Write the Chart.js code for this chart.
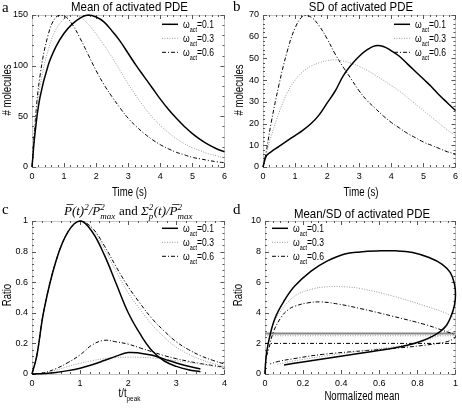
<!DOCTYPE html>
<html>
<head>
<meta charset="utf-8">
<script src="https://cdn.jsdelivr.net/npm/chart.js@4.4.0/dist/chart.umd.min.js"></script>
<style>
  body { margin: 0; background: #fff; }
  #wrap { position: relative; width: 462px; height: 408px; }
  .panel { position: absolute; width: 231px; height: 204px; }
</style>
</head>
<body>
<div id="wrap">
  <div class="panel" style="left:0;top:0"><canvas id="chartA" width="231" height="204"></canvas></div>
  <div class="panel" style="left:231px;top:0"><canvas id="chartB" width="231" height="204"></canvas></div>
  <div class="panel" style="left:0;top:204px"><canvas id="chartC" width="231" height="204"></canvas></div>
  <div class="panel" style="left:231px;top:204px"><canvas id="chartD" width="231" height="204"></canvas></div>
</div>
<script>
// series names (subscript written as _{...})
const seriesNames = ['ω_{act}=0.1', 'ω_{act}=0.3', 'ω_{act}=0.6'];

// a + b: time axis (s)
const timeS = [0, 0.1, 0.25, 0.5, 0.75, 1, 1.25, 1.5, 1.75, 2, 2.25, 2.5, 2.75, 3, 3.25, 3.5, 3.75, 4, 4.25, 4.5, 4.75, 5, 5.25, 5.5, 5.75, 6];

// a: mean of activated PDE
const meanW1 = [0, 35, 69, 100, 119, 132, 141, 147, 150, 148, 143, 134, 124, 112, 100, 89, 78, 67, 57, 48, 40, 33, 27, 22, 18, 15];
const meanW3 = [0, 42, 80, 115, 136, 146, 150, 148, 141, 131, 120, 108, 95, 82, 70, 59, 49, 41, 34, 28, 23, 19, 16, 13, 11, 9];
const meanW6 = [0, 45, 90, 130, 148, 149, 141, 127, 111, 95, 81, 69, 58, 48, 40, 33, 27, 22, 18, 14.5, 12, 9.5, 8, 6.5, 5.2, 4.2];

// b: SD of activated PDE
const sdW1 = [0, 5, 7, 9.5, 12, 14.5, 17, 20, 24, 29.5, 35, 42, 47, 51, 54, 55.8, 55.5, 53.5, 51, 47.5, 44, 40.5, 37, 33, 29.5, 26];
const sdW3 = [0, 6, 14, 25, 34, 40, 44, 46.5, 48, 49, 49.3, 48.8, 47.8, 46.3, 44.5, 42.3, 40, 37.5, 35, 32, 29, 26, 23, 20, 17, 14.5];
const sdW6 = [0, 7, 20, 38, 53, 64, 69.5, 69, 65, 59, 52, 46, 40.5, 35, 30.5, 27, 23.5, 20.5, 18, 15.5, 13.5, 11.5, 10, 8.5, 7, 6];

// c: t / t_peak
const tOverPeak = [0, 0.1, 0.25, 0.5, 0.75, 1, 1.25, 1.5, 1.75, 2, 2.25, 2.5, 2.75, 3, 3.25, 3.5, 3.75, 4];
const meanSqW1 = [0, 0.12, 0.42, 0.74, 0.93, 1, 0.93, 0.78, 0.59, 0.4, 0.26, 0.15, 0.085, 0.05, 0.028, 0.015];
const meanSqW3 = [0, 0.12, 0.42, 0.74, 0.93, 1, 0.95, 0.82, 0.67, 0.53, 0.42, 0.32, 0.24, 0.175, 0.13, 0.095, 0.07, 0.05];
const meanSqW6 = [0, 0.12, 0.42, 0.74, 0.93, 1, 0.955, 0.84, 0.7, 0.57, 0.46, 0.36, 0.28, 0.21, 0.16, 0.12, 0.09, 0.065];
const varW1 = [0, 0.001, 0.003, 0.01, 0.022, 0.038, 0.06, 0.088, 0.117, 0.14, 0.136, 0.122, 0.097, 0.072, 0.05, 0.033];
const varW3 = [0, 0.001, 0.006, 0.025, 0.05, 0.07, 0.087, 0.1, 0.107, 0.11, 0.109, 0.105, 0.097, 0.087, 0.076, 0.065, 0.052, 0.04];
const varW6 = [0, 0.001, 0.008, 0.035, 0.075, 0.125, 0.19, 0.22, 0.21, 0.195, 0.17, 0.145, 0.12, 0.1, 0.083, 0.068, 0.056, 0.045];

// d: mean/SD against normalized mean (loops, in time order)
const normMeanW1 = [0, 0.005, 0.019, 0.053, 0.105, 0.156, 0.242, 0.328, 0.414, 0.5, 0.586, 0.689, 0.775, 0.861, 0.93, 0.973, 0.995, 1.0, 0.995, 0.98, 0.955, 0.921, 0.878, 0.826, 0.758, 0.672, 0.5, 0.328, 0.19, 0.1];
const ratioW1 = [0, 1.0, 2.13, 3.66, 4.87, 5.75, 6.73, 7.39, 7.83, 7.98, 8.04, 8.05, 7.94, 7.61, 7.17, 6.62, 5.86, 5.2, 4.54, 3.88, 3.22, 2.79, 2.46, 2.17, 1.91, 1.69, 1.36, 1.03, 0.77, 0.59];
const normMeanW3 = [0, 0.005, 0.019, 0.045, 0.088, 0.156, 0.242, 0.328, 0.414, 0.5, 0.672, 0.844, 0.947, 0.99, 1.0, 0.985, 0.95, 0.9, 0.8, 0.7, 0.5, 0.3, 0.15, 0.06];
const ratioW3 = [0, 1.0, 2.1, 3.3, 4.2, 5.09, 5.53, 5.7, 5.7, 5.59, 5.09, 4.43, 3.99, 3.66, 3.35, 3.02, 2.75, 2.45, 2.05, 1.82, 1.5, 1.15, 0.85, 0.62];
const normMeanW6 = [0, 0.005, 0.019, 0.045, 0.088, 0.122, 0.156, 0.225, 0.294, 0.38, 0.5, 0.672, 0.844, 0.947, 0.99, 1.0, 0.99, 0.95, 0.85, 0.7, 0.5, 0.3, 0.15, 0.07, 0.027];
const ratioW6 = [0, 1.0, 1.6, 2.78, 3.77, 4.2, 4.43, 4.65, 4.71, 4.58, 4.28, 3.77, 3.22, 2.79, 2.6, 2.45, 2.3, 2.1, 1.9, 1.7, 1.5, 1.28, 1.0, 0.82, 0.66];
const ratioLevels = [2.65, 2.5, 2.0];
const levelSpan = [0, 1];

// tick labels
const timeTicks = [0, 1, 2, 3, 4, 5, 6];
const meanTicks = [0, 50, 100, 150];
const sdTicks = [0, 10, 20, 30, 40, 50, 60, 70];
const tPeakTicks = [0, 1, 2, 3, 4];
const ratioCTicks = [0, 0.2, 0.4, 0.6, 0.8, 1];
const normTicks = [0, 0.2, 0.4, 0.6, 0.8, 1];
const ratioDTicks = [0, 2, 4, 6, 8, 10];

Chart.defaults.font.family = '"Liberation Sans", Arial, sans-serif';

const lineStyles = [
  { borderColor: '#000', borderWidth: 1.5, borderDash: [] },
  { borderColor: '#9a9a9a', borderWidth: 1, borderDash: [1, 1.5] },
  { borderColor: '#000', borderWidth: 1, borderDash: [4, 2, 1, 2] }
];
const SANS = '"Liberation Sans", Arial, sans-serif';
const SERIF = '"Liberation Serif", "Times New Roman", serif';

const pts = (xs, ys) => ys.map((y, i) => ({ x: xs[i], y: y }));

const series = (i, data, withLabel) => Object.assign({
  label: withLabel ? seriesNames[i] : undefined,
  data: data,
  showLine: true,
  pointRadius: 0,
  fill: false,
  tension: 0.4,
  clip: false
}, lineStyles[i]);

// --- small rich text helper: _{sub} ^{sup}, combining macron = overbar
function parseRich(str) {
  const out = [];
  const re = /([_^])\{([^}]*)\}|([^_^]+)/g;
  let m;
  while ((m = re.exec(str))) {
    if (m[1]) out.push({ t: m[2], k: m[1] === '^' ? 'sup' : 'sub' });
    else out.push({ t: m[3], k: 'n' });
  }
  return out;
}

function layoutRich(ctx, str, size, family, italic, startX) {
  const toks = parseRich(str);
  const small = Math.round(size * 0.68);
  let x = startX;
  const items = [];
  for (let i = 0; i < toks.length; i++) {
    const tk = toks[i];
    const sz = tk.k === 'n' ? size : small;
    const font = (italic ? 'italic ' : '') + sz + 'px ' + family;
    ctx.font = font;
    let clean = '';
    const bars = [];
    for (const ch of tk.t) {
      if (ch === '\u0304') {
        bars.push([ctx.measureText(clean.slice(0, -1)).width, ctx.measureText(clean).width]);
      } else clean += ch;
    }
    const w = ctx.measureText(clean).width;
    const dy = tk.k === 'sup' ? -size * 0.4 : tk.k === 'sub' ? size * 0.3 : 0;
    items.push({ txt: clean, font: font, x: x, dy: dy, bars: bars, sz: size, italic: italic });
    const next = toks[i + 1];
    if (tk.k === 'sup' && next && next.k === 'sub') {
      const w2 = ctx.measureText(next.t).width;
      items.push({ txt: next.t, font: font, x: x, dy: size * 0.32, bars: [], sz: size, italic: italic });
      x += Math.max(w, w2) + 0.5;
      i++;
      continue;
    }
    x += w;
  }
  return { items: items, end: x };
}

// parts: [[text, italic], ...]
function drawRich(ctx, parts, x, y, o) {
  let items = [];
  let end = 0;
  parts.forEach(p => {
    const l = layoutRich(ctx, p[0], o.size, o.family, p[1], end);
    items = items.concat(l.items);
    end = l.end;
  });
  const off = o.align === 'left' ? 0 : -end / 2;
  ctx.save();
  ctx.translate(x, y);
  if (o.rotate) ctx.rotate(o.rotate);
  ctx.scale(o.sx || 1, 1);
  ctx.fillStyle = '#000';
  ctx.textBaseline = 'alphabetic';
  ctx.textAlign = 'left';
  items.forEach(it => {
    ctx.font = it.font;
    ctx.fillText(it.txt, off + it.x, it.dy);
    it.bars.forEach(b => {
      const shift = it.italic ? it.sz * 0.12 : 0;
      ctx.fillRect(off + it.x + b[0] + shift + 1, it.dy - it.sz * 0.86, b[1] - b[0] - 1, 0.9);
    });
  });
  ctx.restore();
}

// frame, tick marks, legend and all titles
const panelText = {
  id: 'panelText',
  beforeDatasetsDraw(chart) {
    const ctx = chart.ctx;
    const a = chart.chartArea;
    ctx.save();
    ctx.strokeStyle = '#8c8c8c';
    ctx.lineWidth = 1;
    ctx.setLineDash([1, 1]);
    ctx.strokeRect(Math.round(a.left) + 0.5, Math.round(a.top) + 0.5, Math.round(a.right - a.left), Math.round(a.bottom - a.top));
    ctx.setLineDash([]);
    ctx.strokeStyle = '#555';
    const sx = chart.scales.x, sy = chart.scales.y;
    const marks = (scale) => {
      const t = scale.ticks.map(k => k.value);
      const step = (t[1] - t[0]) / 5;
      const res = [];
      for (let v = scale.min; v <= scale.max + 1e-9; v += step) {
        const major = t.some(k => Math.abs(k - v) < step / 10);
        res.push([scale.getPixelForValue(v), major ? 4 : 2]);
      }
      return res;
    };
    ctx.beginPath();
    marks(sx).forEach(([p, l]) => {
      const px = Math.round(p) + 0.5;
      ctx.moveTo(px, a.bottom); ctx.lineTo(px, a.bottom - l);
      ctx.moveTo(px, a.top); ctx.lineTo(px, a.top + l);
    });
    marks(sy).forEach(([p, l]) => {
      const py = Math.round(p) + 0.5;
      ctx.moveTo(a.left, py); ctx.lineTo(a.left + l, py);
      ctx.moveTo(a.right, py); ctx.lineTo(a.right - l, py);
    });
    ctx.stroke();
    ctx.restore();
  },
  afterDraw(chart, args, o) {
    const ctx = chart.ctx;
    // panel letter
    ctx.save();
    ctx.font = '15px ' + SERIF;
    ctx.fillStyle = '#000';
    ctx.textAlign = 'left';
    ctx.fillText(o.letter.t, o.letter.x, o.letter.y);
    ctx.restore();
    // title
    drawRich(ctx, o.title.parts, o.title.x, o.title.y, { size: o.title.size || 13, family: o.title.family || SANS, sx: o.title.sx || 0.88 });
    // axis titles
    drawRich(ctx, [[o.xTitle.t, false]], o.xTitle.x, o.xTitle.y, { size: 12, family: SANS, sx: 0.8 });
    drawRich(ctx, [[o.yTitle.t, false]], o.yTitle.x, o.yTitle.y, { size: 12, family: SANS, sx: 0.8, rotate: -Math.PI / 2 });
    // legend
    let row = 0;
    chart.data.datasets.forEach(ds => {
      if (!ds.label) return;
      const y = o.legend.y + row * 14;
      ctx.save();
      ctx.strokeStyle = ds.borderColor;
      ctx.lineWidth = ds.borderWidth;
      ctx.setLineDash(ds.borderDash);
      ctx.beginPath();
      ctx.moveTo(o.legend.x, y);
      ctx.lineTo(o.legend.x + 16, y);
      ctx.stroke();
      ctx.restore();
      drawRich(ctx, [[ds.label, false]], o.legend.x + 21, y + 4, { size: 11, family: SANS, sx: 0.78, align: 'left' });
      row++;
    });
  }
};

function axis(a, dir, size) {
  return {
    type: 'linear',
    min: a.min,
    max: a.max,
    grid: { display: false, drawTicks: false },
    border: { display: false },
    ticks: { color: '#000', font: { size: 9 }, padding: 4, maxRotation: 0, autoSkip: false, callback: v => String(v) },
    afterBuildTicks: s => { s.ticks = a.ticks.map(v => ({ value: v })); },
    afterFit: s => { if (dir === 'x') s.height = size; else s.width = size; }
  };
}

function buildChart(id, datasets, opts) {
  return new Chart(document.getElementById(id), {
    type: 'scatter',
    data: { datasets: datasets },
    options: {
      responsive: false,
      animation: false,
      events: [],
      layout: { padding: { top: opts.area.top, right: opts.area.right, left: 0, bottom: 0 } },
      plugins: { legend: { display: false }, tooltip: { enabled: false }, panelText: opts.text },
      scales: {
        x: axis(opts.x, 'x', opts.area.bottom),
        y: axis(opts.y, 'y', opts.area.left)
      }
    },
    plugins: [panelText]
  });
}

// a
buildChart('chartA', [
  series(0, pts(timeS, meanW1), true),
  series(1, pts(timeS, meanW3), true),
  series(2, pts(timeS, meanW6), true)
], {
  area: { top: 15, right: 4, left: 32, bottom: 37 },
  x: { min: 0, max: 6, ticks: timeTicks },
  y: { min: 0, max: 150, ticks: meanTicks },
  text: {
    letter: { t: 'a', x: 2, y: 12 },
    title: { parts: [['Mean of activated PDE', false]], x: 129.5, y: 11 },
    xTitle: { t: 'Time (s)', x: 129.5, y: 196 },
    yTitle: { t: '# molecules', x: 11, y: 90 },
    legend: { x: 162, y: 24.3 }
  }
});

// b
buildChart('chartB', [
  series(0, pts(timeS, sdW1), true),
  series(1, pts(timeS, sdW3), true),
  series(2, pts(timeS, sdW6), true)
], {
  area: { top: 15, right: 3, left: 32, bottom: 37 },
  x: { min: 0, max: 6, ticks: timeTicks },
  y: { min: 0, max: 70, ticks: sdTicks },
  text: {
    letter: { t: 'b', x: 2, y: 11 },
    title: { parts: [['SD of activated PDE', false]], x: 130, y: 11 },
    xTitle: { t: 'Time (s)', x: 130, y: 196 },
    yTitle: { t: '# molecules', x: 12, y: 90 },
    legend: { x: 163, y: 24.3 }
  }
});

// c
buildChart('chartC', [
  series(0, pts(tOverPeak, meanSqW1), true),
  series(1, pts(tOverPeak, meanSqW3), true),
  series(2, pts(tOverPeak, meanSqW6), true),
  series(0, pts(tOverPeak, varW1), false),
  series(1, pts(tOverPeak, varW3), false),
  series(2, pts(tOverPeak, varW6), false)
], {
  area: { top: 17, right: 4, left: 32, bottom: 34 },
  x: { min: 0, max: 4, ticks: tPeakTicks },
  y: { min: 0, max: 1, ticks: ratioCTicks },
  text: {
    letter: { t: 'c', x: 2, y: 10 },
    title: {
      parts: [['P\u0304(t)^{2}/P\u0304^{2}_{max}', true], [' and ', false], ['Σ^{2}_{p}(t)/P\u0304^{2}_{max}', true]],
      x: 128.5, y: 11, size: 13, family: SERIF, sx: 1
    },
    xTitle: { t: 't/t_{peak}', x: 129.5, y: 193 },
    yTitle: { t: 'Ratio', x: 11, y: 91 },
    legend: { x: 162, y: 24.3 }
  }
});

// d
buildChart('chartD', [
  series(0, pts(normMeanW1, ratioW1), true),
  series(1, pts(normMeanW3, ratioW3), true),
  series(2, pts(normMeanW6, ratioW6), true),
  Object.assign(series(0, levelSpan.map(x => ({ x: x, y: ratioLevels[0] })), false), { borderColor: '#888', borderWidth: 2, tension: 0 }),
  Object.assign(series(1, levelSpan.map(x => ({ x: x, y: ratioLevels[1] })), false), { tension: 0 }),
  Object.assign(series(2, levelSpan.map(x => ({ x: x, y: ratioLevels[2] })), false), { tension: 0 })
], {
  area: { top: 17, right: 3, left: 34, bottom: 34 },
  x: { min: 0, max: 1, ticks: normTicks },
  y: { min: 0, max: 10, ticks: ratioDTicks },
  text: {
    letter: { t: 'd', x: 2, y: 10 },
    title: { parts: [['Mean/SD of activated PDE', false]], x: 131, y: 14 },
    xTitle: { t: 'Normalized mean', x: 131, y: 196 },
    yTitle: { t: 'Ratio', x: 11, y: 91 },
    legend: { x: 41, y: 24.3 }
  }
});
</script>
</body>
</html>
